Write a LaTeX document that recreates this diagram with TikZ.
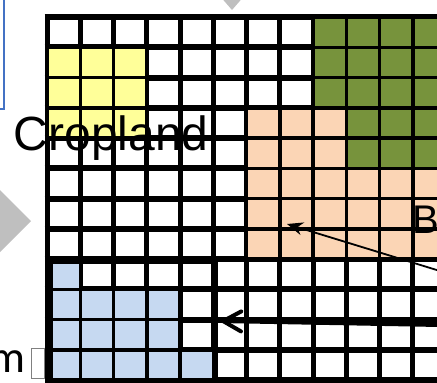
\documentclass[tikz,border=0pt]{standalone}
\usepackage{fontspec}
\usepackage{tikz}
\usetikzlibrary{arrows.meta}
\newfontfamily\labelfont{Liberation Sans}
\newfontfamily\notefont{Carlito}
\definecolor{cropyellow}{RGB}{255,255,153}
\definecolor{forestgreen}{RGB}{119,147,60}
\definecolor{builtpeach}{RGB}{251,213,181}
\definecolor{waterblue}{RGB}{198,217,241}
\definecolor{shadegray}{RGB}{191,191,191}
\definecolor{boxblue}{RGB}{68,114,196}
\newcommand\landcell[3]{\fill[#1] (47+33.25*#2+1.75,17+30.25*#3+1.75) rectangle (47+33.25*#2+31.5,17+30.25*#3+28.5);}

\begin{document}
\begin{tikzpicture}[x=1pt, y=-1pt, hline/.style={line width=6pt}, vline/.style={line width=5pt}, every node/.style={inner sep=0pt}]
\useasboundingbox (0,0) rectangle (437,383);
\fill[shadegray] (219,-5) -- (245,-5) -- (232,10) -- cycle;
\fill[shadegray] (-12,178) -- (31,221) -- (-12,264) -- cycle;
\draw[boxblue, line width=1.5pt] (-60,-60) rectangle (4,109);
\foreach \j in {0,...,12} {\draw[hline] (44.5,17+30.25*\j) -- (450,17+30.25*\j);}
\foreach \i in {0,...,12} {\draw[vline] (47+33.25*\i,14) -- (47+33.25*\i,390);}
\foreach \i in {0,1,2} {\foreach \j in {1,2,3} {\landcell{cropyellow}{\i}{\j}}}
\foreach \i in {8,...,11} {\foreach \j in {0,1,2} {\landcell{forestgreen}{\i}{\j}}}
\foreach \i in {9,10,11} {\foreach \j in {3,4} {\landcell{forestgreen}{\i}{\j}}}
\foreach \i in {6,7,8} {\foreach \j in {3,4} {\landcell{builtpeach}{\i}{\j}}}
\foreach \i in {6,...,11} {\foreach \j in {5,6,7} {\landcell{builtpeach}{\i}{\j}}}
\landcell{waterblue}{0}{8}
\foreach \i in {0,...,3} {\foreach \j in {9,10} {\landcell{waterblue}{\i}{\j}}}
\foreach \i in {0,...,4} {\landcell{waterblue}{\i}{11}}
\draw[line width=6pt] (49.5,261) rectangle (215,400);
\node[font=\labelfont\fontsize{48}{50}\selectfont, anchor=base west] (cropland) at (13.5,150) {Cropland};
\node[font=\labelfont\fontsize{40}{44}\selectfont, anchor=base west] (builtup) at (412,233) {B};
\node[font=\notefont\fontsize{45}{48}\selectfont, anchor=base east] (note) at (26,372) {m};
\draw[gray, line width=1pt] (31,348) rectangle (44,378);
\coordinate (builtfrom) at (440,271);
\coordinate (builtto) at (287,224);
\draw[line width=1.8pt, -{Stealth[length=16pt,width=13pt]}] (builtfrom) -- (builtto);
\coordinate (waterfrom) at (440,325);
\coordinate (waterto) at (219,321);
\draw[line width=4pt, -{Straight Barb[length=18pt,width=20pt,line cap=round]}] (waterfrom) -- (waterto);
\end{tikzpicture}
\end{document}
